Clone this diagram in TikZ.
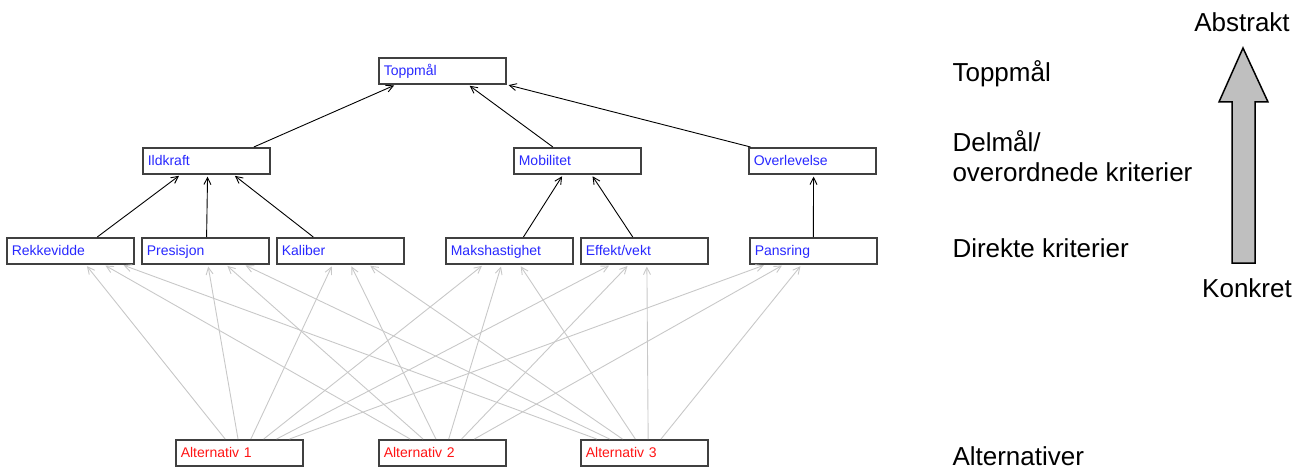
\documentclass[tikz,border=0pt]{standalone}
\usepackage{fontspec}
\setmainfont{Liberation Sans}
\usepackage{tikz}
\usetikzlibrary{calc, arrows.meta}

\definecolor{critblue}{RGB}{40,40,255}
\definecolor{altred}{RGB}{255,20,20}
\definecolor{linkgray}{RGB}{200,200,200}

\begin{document}
\begin{tikzpicture}
  [
    x = 1pt, y = -1pt,
    box/.style = {draw = black!75, line width = 1.6pt, rectangle, anchor = north west,
                  minimum width = 127pt, minimum height = 26pt, inner xsep = 5pt, inner ysep = 0pt,
                  text width = 117pt, align = left, text height = 11pt, text depth = 2pt,
                  font = \fontsize{14}{16}\selectfont, text = critblue},
    altbox/.style = {box, text = altred},
    link/.style = {line width = 0.9pt, shorten >= 2pt, -{Straight Barb[length = 7pt, width = 7pt]}},
    graylink/.style = {link, draw = linkgray},
    level/.style = {anchor = base west, font = \fontsize{26}{30}\selectfont},
    ends/.style = {anchor = base, font = \fontsize{26}{30}\selectfont}
  ]
  \useasboundingbox (0,0) rectangle (1302,468);

  % hierarchy
  \node[box] (top)  at (378,57)  {Toppmål};
  \node[box] (ild)  at (142,147) {Ildkraft};
  \node[box] (mob)  at (513,147) {Mobilitet};
  \node[box] (ovl)  at (748,147) {Overlevelse};
  \node[box] (rek)  at (6,237)   {Rekkevidde};
  \node[box] (pres) at (141,237) {Presisjon};
  \node[box] (kal)  at (276,237) {Kaliber};
  \node[box] (mak)  at (445,237) {Makshastighet};
  \node[box] (eff)  at (580,237) {Effekt/vekt};
  \node[box] (pans) at (749,237) {Pansring};
  \node[altbox] (alt1) at (175,439) {Alternativ 1};
  \node[altbox] (alt2) at (378,439) {Alternativ 2};
  \node[altbox] (alt3) at (580,439) {Alternativ 3};

  % criteria -> goals
  \foreach \c/\cf/\p/\pf in {ild/0.87/top/0.14, mob/0.31/top/0.70, ovl/0.02/top/1.0,
                             rek/0.71/ild/0.30, pres/0.51/ild/0.51, kal/0.29/ild/0.71,
                             mak/0.61/mob/0.39, eff/0.41/mob/0.61, pans/0.50/ovl/0.51}
    \draw[link] ($(\c.north west)!\cf!(\c.north east)$) -- ($(\p.south west)!\pf!(\p.south east)$);

  % alternatives -> direct criteria
  \foreach \a/\s [count=\j from 0] in {alt1/0.39, alt2/0.25, alt3/0.13}
    \foreach \c/\t [count=\k from 0] in {rek/0.62, pres/0.52, kal/0.44, mak/0.30, eff/0.24, pans/0.13}
    {
      \pgfmathsetmacro\fa{\s+0.1*\k}
      \pgfmathsetmacro\fc{\t+0.14*\j}
      \draw[graylink] ($(\a.north west)!\fa!(\a.north east)$) -- ($(\c.south west)!\fc!(\c.south east)$);
    }

  % level labels
  \node[level] (lvltop) at (949,82)  {Toppmål};
  \node[level] (lvlsub) at (949,152) {Delmål/};
  \node[level] (lvlsub2) at (949,182) {overordnede kriterier};
  \node[level] (lvldir) at (949,257) {Direkte kriterier};
  \node[level] (lvlalt) at (949,465) {Alternativer};

  % abstract / concrete
  \node[ends] (abstr) at (1242,32)  {Abstrakt};
  \node[ends] (konkr) at (1247,297) {Konkret};
  \draw[line width = 1.5pt, fill = gray!50]
    (1232,263) -- (1232,102) -- (1219,102) -- (1243,48) -- (1268,102) -- (1255,102) -- (1255,263) -- cycle;
\end{tikzpicture}
\end{document}
